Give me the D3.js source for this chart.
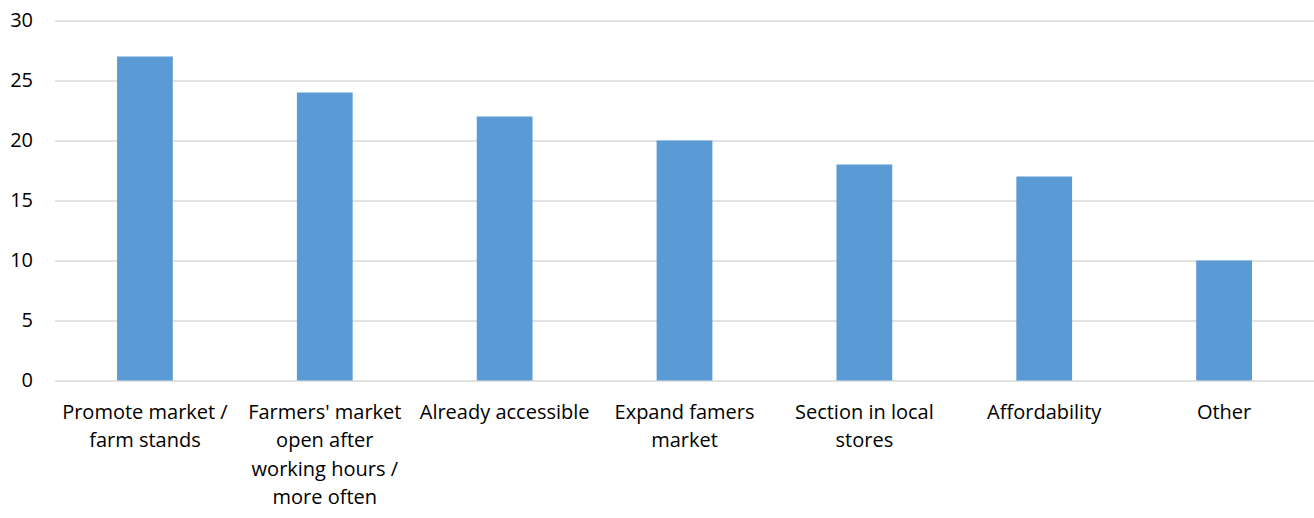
<!DOCTYPE html>
<html><head><meta charset="utf-8">
<script src="https://cdn.jsdelivr.net/npm/d3@7"></script>
<style>body{margin:0;background:#fff}svg{display:block}</style>
</head><body>
<script>
const categories = ["Promote market /\nfarm stands","Farmers' market\nopen after\nworking hours /\nmore often","Already accessible","Expand famers\nmarket","Section in local\nstores","Affordability","Other"];
const values = [27,24,22,20,18,17,10];
const yTicks = [0,5,10,15,20,25,30];

const W=1314,H=518;
const m={left:55,right:0,top:20.5,bottom:137.5};
const svg=d3.select("body").append("svg").attr("width",W).attr("height",H);
const x=d3.scaleBand().domain(categories).range([m.left,W-m.right]).paddingInner(0.69).paddingOuter(0.345);
const y=d3.scaleLinear().domain([0,30]).range([H-m.bottom,m.top]);
const font="'Open Sans', sans-serif";
const fs=20;

const yAxis=d3.axisLeft(y).tickValues(yTicks).tickSize(-(W-m.left-m.right)).tickPadding(22);
const gy=svg.append("g").attr("transform",`translate(${m.left},0)`).call(yAxis);
gy.select(".domain").remove();
gy.selectAll(".tick line").attr("stroke","#d9d9d9").attr("stroke-width",1.5);
gy.selectAll(".tick text").attr("font-family",font).attr("font-size",fs).attr("fill","#000");

svg.append("g").selectAll("rect").data(values).join("rect")
  .attr("x",(d,i)=>x(categories[i]))
  .attr("width",x.bandwidth())
  .attr("y",d=>y(d))
  .attr("height",d=>y(0)-y(d))
  .attr("fill","#5b9bd5");

const xAxis=d3.axisBottom(x).tickSize(0).tickPadding(0);
const gx=svg.append("g").attr("transform",`translate(0,${y(0)})`).call(xAxis);
gx.select(".domain").remove();
gx.selectAll(".tick text").each(function(d){
  const t=d3.select(this);t.text(null);
  d.split("\n").forEach((ln,i)=>t.append("tspan").attr("x",0).attr("y",38+i*28.5).text(ln));
}).attr("dy",null).attr("font-family",font).attr("font-size",fs).attr("fill","#000");
</script>
</body></html>
